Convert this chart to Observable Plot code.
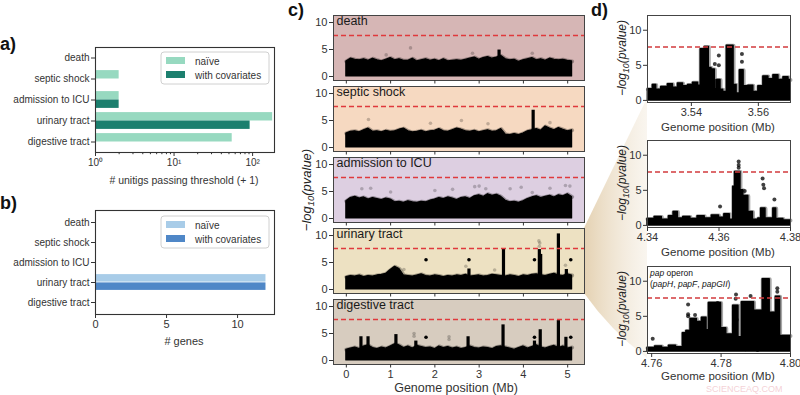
<!DOCTYPE html>
<html><head><meta charset="utf-8">
<script src="https://cdn.jsdelivr.net/npm/d3@7"></script>
<script src="https://cdn.jsdelivr.net/npm/@observablehq/plot@0.6"></script>
<style>
body{margin:0;background:#fff;}
#root{position:relative;width:800px;height:395px;overflow:hidden;font-family:"Liberation Sans",Arial,sans-serif;background:#fff;}
</style></head><body><div id="root"></div>
<script>
// ---------------- data ----------------
const categories = ["death", "septic shock", "admission to ICU", "urinary tract", "digestive tract"];
const unitigsNaive = [0, 1, 1, 179, 54];
const unitigsCov = [0, 0, 1, 92, 0];
const genesNaive = [0, 0, 0, 12, 0];
const genesCov = [0, 0, 0, 12, 0];
const logMajorTicks = [1, 10, 100];
const logMinorTicks = [2, 3, 4, 5, 6, 7, 8, 9, 20, 30, 40, 50, 60, 70, 80, 90];
const geneTicks = [0, 5, 10];
const genomeTicks = [0, 1, 2, 3, 4, 5];
const pTicks = [0, 5, 10];
const threshold = 7.6;

// panel c: upper envelope of the dense point cloud, every 0.1 Mb
const envPos = [0,0.1,0.2,0.3,0.4,0.5,0.6,0.7,0.8,0.9,1.0,1.1,1.2,1.3,1.4,1.5,1.6,1.7,1.8,1.9,2.0,2.1,2.2,2.3,2.4,2.5,2.6,2.7,2.8,2.9,3.0,3.1,3.2,3.3,3.4,3.5,3.6,3.7,3.8,3.9,4.0,4.1,4.2,4.3,4.4,4.5,4.6,4.7,4.8,4.9,5.0,5.1];
const envDeath = [2.8,3.3,3.1,3.0,3.2,2.9,3.3,3.0,2.8,3.1,3.4,3.0,3.2,2.9,2.9,3.3,2.8,3.0,3.2,2.9,3.1,2.8,3.2,2.8,2.9,3.0,2.9,3.1,3.3,3.5,3.1,3.4,3.6,3.3,3.5,3.8,3.2,3.0,3.1,2.7,3.0,3.2,3.4,3.0,3.2,2.9,3.3,3.1,3.0,3.1,2.9,2.8];
const envSeptic = [2.6,2.9,3.0,2.8,3.2,3.5,2.9,3.0,2.8,3.1,2.9,3.0,3.3,3.5,3.0,2.8,2.9,3.1,2.8,3.0,3.1,3.4,3.0,2.9,3.2,3.5,3.3,3.0,2.9,3.1,2.8,3.0,3.2,2.9,3.0,3.4,2.4,2.3,2.5,2.3,2.6,3.0,3.2,3.4,3.1,3.9,3.5,3.2,3.6,3.3,3.0,3.2];
const envAdmission = [3.2,3.8,4.0,3.7,3.9,3.5,3.8,3.6,3.4,3.7,3.5,3.0,3.1,2.9,3.2,3.0,2.9,3.1,3.0,3.3,3.5,3.8,3.6,3.9,3.7,3.4,3.8,3.9,3.6,4.1,4.3,4.0,4.5,4.2,4.4,4.0,3.3,3.0,3.1,2.9,3.2,3.6,3.9,4.1,3.8,4.0,4.2,3.9,4.3,4.1,4.5,4.0];
const envUrinary = [2.3,2.5,2.4,2.6,2.3,2.5,2.4,2.6,2.7,2.9,3.6,4.2,3.8,2.6,2.5,2.4,2.6,2.8,2.5,2.4,2.6,2.5,2.3,2.5,2.4,2.6,2.5,2.7,2.4,2.5,2.6,2.4,2.5,2.7,2.6,2.5,2.4,2.6,2.5,2.3,2.6,2.5,2.7,2.8,2.6,2.5,2.7,2.9,2.6,2.5,2.8,2.6];
const envDigestive = [2.0,2.2,2.4,2.1,2.6,2.8,2.3,2.1,2.4,2.2,2.6,3.0,2.8,2.3,2.6,2.2,2.7,2.5,2.3,2.4,2.1,2.6,2.3,2.5,2.2,2.4,2.1,2.3,2.6,2.3,2.2,2.4,2.3,2.1,2.5,2.6,2.4,2.2,2.0,2.3,2.6,2.2,2.5,2.8,2.4,2.2,2.5,2.7,2.3,2.6,2.2,2.4];
// narrow peaks [position Mb, -log10 p]
const peaksDeath = [[3.45, 4.9]];
const peaksSeptic = [[4.22, 6.9]];
const peaksAdmission = [];
const peaksUrinary = [[2.77, 3.8], [3.55, 7.6], [4.36, 7.4], [4.39, 6.5], [4.79, 10.3], [4.97, 3.7]];
const peaksDigestive = [[0.33, 4.4], [0.49, 4.4], [1.12, 4.8], [1.57, 3.6], [2.75, 4.4], [3.54, 6.6], [4.25, 3.6], [4.38, 5.7], [4.79, 7.4], [4.96, 4.3]];
// isolated faint points
const faintDeath = [[1.45, 5.3], [2.85, 4.3], [4.2, 4.3], [0.9, 4.0]];
const faintSeptic = [[0.5, 5.2], [2.6, 5.0], [1.9, 4.5], [3.2, 4.4], [4.6, 4.6]];
const faintAdmission = [[0.35, 5.5], [0.55, 5.6], [1.0, 4.9], [2.0, 5.2], [2.4, 5.4], [2.9, 5.9], [3.0, 6.0], [3.15, 5.5], [3.7, 5.5], [3.95, 5.8], [4.6, 5.6], [4.95, 6.1], [5.05, 6.0], [4.2, 4.8]];
const faintUrinary = [[4.35, 9.0], [4.37, 8.6], [4.36, 8.0], [1.3, 3.7], [4.95, 4.5], [2.7, 4.3], [3.35, 3.6]];
const faintDigestive = [[1.53, 5.0], [1.53, 4.5], [2.32, 4.4], [2.32, 3.9]];
// solid markers
const markUrinary = [[1.8, 5.5], [2.77, 5.5], [4.25, 5.5], [5.07, 5.5]];
const markDigestive = [[1.8, 4.3], [4.25, 4.3], [5.07, 4.3]];
const cColors = ["#d6b6b5", "#f6d9c1", "#ddcfe1", "#ede1c2", "#d7ccbf"];

// panel d: zoomed regions (step envelope [Mb, top]) and points
const d1Env = [[3.527,1.6],[3.5285,2.2],[3.5295,1.5],[3.531,1.9],[3.533,2.3],[3.5345,1.8],[3.536,2.4],[3.5375,2.0],[3.539,2.2],[3.5405,2.5],[3.542,2.1],[3.5428,7.3],[3.544,7.6],[3.5452,4.6],[3.546,4.4],[3.547,1.6],[3.5475,2.9],[3.5487,1.5],[3.5495,1.2],[3.5506,7.8],[3.5526,2.2],[3.5535,1.0],[3.5545,4.3],[3.5556,2.0],[3.557,2.1],[3.5585,1.2],[3.56,2.0],[3.5615,3.4],[3.563,3.0],[3.5645,3.6],[3.566,2.9],[3.5675,3.3],[3.569,2.9],[3.5696,2.9]];
const d1Pts = [[3.5482,6.4],[3.5482,5.0],[3.547,5.2],[3.5551,6.6],[3.5551,5.5],[3.5446,6.0],[3.5515,5.2],[3.5518,4.0]];
const d2Env = [[4.34,0.9],[4.342,1.2],[4.344,0.8],[4.346,1.3],[4.3473,1.9],[4.3485,1.0],[4.35,1.2],[4.352,0.9],[4.354,1.3],[4.356,1.0],[4.358,1.4],[4.36,1.1],[4.3615,1.6],[4.363,0.8],[4.364,5.5],[4.3645,7.6],[4.366,5.0],[4.3668,4.2],[4.3682,1.9],[4.3695,0.8],[4.371,1.0],[4.3718,2.4],[4.373,1.0],[4.3752,2.4],[4.376,0.9],[4.378,0.7],[4.38,0.7]];
const d2Pts = [[4.3655,9.1],[4.3655,8.6],[4.3655,8.2],[4.3722,6.7],[4.3724,5.8],[4.3726,5.3],[4.3755,3.7],[4.3603,2.7],[4.3672,4.9]];
const d3Env = [[4.7588,0.5],[4.761,0.7],[4.763,0.5],[4.765,0.8],[4.767,0.6],[4.769,2.6],[4.77,2.9],[4.7712,4.6],[4.773,4.2],[4.7745,4.8],[4.7758,3.0],[4.7765,6.9],[4.78,3.3],[4.7815,2.4],[4.7835,6.5],[4.785,2.0],[4.786,7.0],[4.7895,5.8],[4.792,10.3],[4.794,5.5],[4.7958,7.8],[4.797,2.2],[4.8,2.2]];
const d3Pts = [[4.7603,1.8],[4.7705,6.7],[4.7705,5.3],[4.7705,5.0],[4.7843,8.1],[4.7842,7.5],[4.7885,7.9],[4.7962,9.0],[4.7962,8.5],[4.7845,4.5],[4.787,0.3],[4.789,0.5],[4.7905,0.2],[4.779,6.9],[4.7725,5.2]];
const d1Ticks = [3.54, 3.56];
const d2Ticks = [4.34, 4.36, 4.38];
const d3Ticks = [4.76, 4.78, 4.80];

// ---------------- drawing ----------------
const FONT = '"Liberation Sans", Arial, sans-serif';
const root = document.getElementById("root");
const INK = "#333";
function place(el, left, top) {
  el.style.position = "absolute"; el.style.left = left + "px"; el.style.top = top + "px";
  root.appendChild(el);
}
const baseStyle = {fontFamily: FONT, fontSize: "10px", color: INK, background: "transparent", overflow: "visible"};

// wedge decoration (behind)
const deco = document.createElementNS("http://www.w3.org/2000/svg", "svg");
deco.setAttribute("width", 800); deco.setAttribute("height", 395);
deco.innerHTML = `<defs><linearGradient id="wg" x1="0" x2="1" y1="0" y2="0">
<stop offset="0" stop-color="#e3cfae" stop-opacity="0.95"/><stop offset="1" stop-color="#efe4d2" stop-opacity="0.35"/></linearGradient></defs>
<path d="M584,228 L647,98 L647,358 Q610,330 584,293 Z" fill="url(#wg)"/>`;
place(deco, 0, 0);

// ----- panel a -----
const supDigits = {0: "\u2070", 1: "\u00b9", 2: "\u00b2"};
const rowsA = categories.map((c, i) => ({cat: c, naive: unitigsNaive[i], cov: unitigsCov[i]}));
const plotA = Plot.plot({
  width: 290, height: 192, marginLeft: 95, marginRight: 16, marginTop: 47, marginBottom: 40,
  style: baseStyle,
  x: {type: "log", domain: [1, 190], label: null},
  y: {type: "band", domain: categories, padding: 0, label: null},
  marks: [
    Plot.barX(rowsA, {y: "cat", x1: () => 1, x2: d => d.naive + 1, fill: "#97d9c0", insetTop: 2.1, insetBottom: 10.5}),
    Plot.barX(rowsA, {y: "cat", x1: () => 1, x2: d => d.cov + 1, fill: "#1c7f6e", insetTop: 10.5, insetBottom: 2.1}),
    Plot.frame({stroke: INK, strokeWidth: 1.1}),
    Plot.axisY({tickSize: 4, tickPadding: 2, label: null, fontSize: 10}),
    Plot.axisX({ticks: logMajorTicks, tickSize: 4, tickPadding: 2, label: null, fontSize: 10,
      tickFormat: d => "10" + supDigits[Math.round(Math.log10(d))]}),
    Plot.axisX({ticks: logMinorTicks, tickSize: 2.2, label: null, tickFormat: () => ""})
  ]
});
place(plotA, 0, 0);

// ----- panel b -----
const rowsB = categories.map((c, i) => ({cat: c, naive: genesNaive[i], cov: genesCov[i]}));
const plotB = Plot.plot({
  width: 290, height: 159, marginLeft: 95, marginRight: 16, marginTop: 15, marginBottom: 40,
  style: baseStyle,
  x: {domain: [0, 12.6], label: null},
  y: {type: "band", domain: categories, padding: 0, label: null},
  marks: [
    Plot.barX(rowsB, {y: "cat", x: "naive", fill: "#a8cce8", insetTop: 2.1, insetBottom: 10.4}),
    Plot.barX(rowsB, {y: "cat", x: "cov", fill: "#4f87c7", insetTop: 10.4, insetBottom: 2.1}),
    Plot.frame({stroke: INK, strokeWidth: 1.1}),
    Plot.axisY({tickSize: 4, tickPadding: 2, label: null, fontSize: 10}),
    Plot.axisX({ticks: geneTicks, tickSize: 4, tickPadding: 2, label: null, fontSize: 11})
  ]
});
place(plotB, 0, 195);

// ----- panel c -----
const cEnvs = [envDeath, envSeptic, envAdmission, envUrinary, envDigestive];
const cPeaks = [peaksDeath, peaksSeptic, peaksAdmission, peaksUrinary, peaksDigestive];
const cFaint = [faintDeath, faintSeptic, faintAdmission, faintUrinary, faintDigestive];
const cMarks = [[], [], [], markUrinary, markDigestive];
const cTops = [15, 86, 157, 228, 299];
categories.forEach((name, i) => {
  const env = envPos.map((x, j) => ({x, y: cEnvs[i][j]}));
  const last = i === 4;
  const p = Plot.plot({
    width: 300, height: 2 + 65 + (last ? 30 : 8),
    marginLeft: 43, marginRight: 6, marginTop: 2, marginBottom: last ? 30 : 8,
    style: baseStyle,
    x: {domain: [-0.29, 5.38], label: null},
    y: {domain: [-0.74, 11.3], label: null},
    marks: [
      Plot.frame({fill: cColors[i]}),
      Plot.dot(cFaint[i], {x: d => d[0], y: d => d[1], r: 1.8, fill: "#000", fillOpacity: 0.22}),
      Plot.areaY(env, {x: "x", y: "y", fill: "#000", stroke: "#000", strokeWidth: 1.2}),
      Plot.lineY(env, {x: "x", y: "y", stroke: "#000", strokeOpacity: 0.3, strokeWidth: 4}),
      Plot.ruleX(cPeaks[i], {x: d => d[0], y1: 0, y2: d => d[1], stroke: "#000", strokeWidth: 3.2}),
      Plot.dot(cMarks[i], {x: d => d[0], y: d => d[1], r: 1.8, fill: "#000"}),
      Plot.ruleY([threshold], {stroke: "#e0393c", strokeWidth: 1.6, strokeDasharray: "5,3"}),
      Plot.text([name], {text: d => d, frameAnchor: "top-left", textAnchor: "start", lineAnchor: "top", dx: 3, dy: 1, fontSize: 12.5, fill: "#1a1a1a"}),
      Plot.frame({stroke: "#444", strokeWidth: 1}),
      Plot.axisY({ticks: pTicks, tickSize: 4, tickPadding: 2, label: null, fontSize: 11}),
      Plot.axisX({ticks: genomeTicks, tickSize: 3.5, tickPadding: 2, label: null, fontSize: 11,
        tickFormat: last ? (d => String(d)) : (() => "")})
    ]
  });
  place(p, 290, cTops[i] - 2);
});

// ----- panel d -----
const dEnvs = [d1Env, d2Env, d3Env];
const dPts = [d1Pts, d2Pts, d3Pts];
const dTicks = [d1Ticks, d2Ticks, d3Ticks];
const dDomains = [[3.5269, 3.5696], [4.34, 4.38], [4.7588, 4.80]];
const dTops = [15, 140, 266];
dEnvs.forEach((envArr, i) => {
  const env = envArr.map(d => ({x: d[0], y: d[1]}));
  const p = Plot.plot({
    width: 210, height: 2 + 87 + 32, marginLeft: 57, marginRight: 10, marginTop: 2, marginBottom: 32,
    style: baseStyle,
    x: {domain: dDomains[i], label: null},
    y: {domain: [-0.3, 12.1], label: null},
    marks: [
      Plot.frame({fill: "#fff"}),
      Plot.areaY(env, {x: "x", y: "y", curve: "step-after", fill: "#000", stroke: "#000", strokeWidth: 1.5}),
      Plot.lineY(env, {x: "x", y: "y", curve: "step-after", stroke: "#000", strokeOpacity: 0.35, strokeWidth: 4}),
      Plot.dot(dPts[i], {x: d => d[0], y: d => d[1], r: 2, fill: "#000", fillOpacity: 0.75}),
      Plot.ruleY([threshold], {stroke: "#d23b3e", strokeWidth: 1.6, strokeDasharray: "5,3"}),
      Plot.frame({stroke: "#444", strokeWidth: 1}),
      Plot.axisY({ticks: pTicks, tickSize: 4, tickPadding: 2, label: null, fontSize: 11}),
      Plot.axisX({ticks: dTicks[i], tickSize: 4, tickPadding: 2, label: null, fontSize: 11, tickFormat: d3.format(".2f")})
    ]
  });
  place(p, 590, dTops[i] - 2);
});

// ----- overlay texts -----
const ov = document.createElementNS("http://www.w3.org/2000/svg", "svg");
ov.setAttribute("width", 800); ov.setAttribute("height", 395);
ov.style.pointerEvents = "none";
function ylab(x, y, size) {
  return `<text transform="translate(${x},${y}) rotate(-90)" text-anchor="middle" font-size="${size}" font-style="italic" fill="#222">\u2212log<tspan dy="3" font-size="${size * 0.72}">10</tspan><tspan dy="-3">(pvalue)</tspan></text>`;
}
function legend(y0, c1, c2) {
  return `<rect x="161" y="${y0}" width="108" height="32" rx="3" fill="#fff" fill-opacity="0.85" stroke="#d0d0d0"/>
  <rect x="166" y="${y0 + 5}" width="19" height="7" fill="${c1}"/>
  <text x="195" y="${y0 + 13}" font-size="10" fill="${INK}">naïve</text>
  <rect x="166" y="${y0 + 19}" width="19" height="7" fill="${c2}"/>
  <text x="195" y="${y0 + 27}" font-size="10" fill="${INK}">with covariates</text>`;
}
ov.innerHTML = `
<g font-family='${FONT}'>
<text x="0" y="50" font-size="18" font-weight="bold" fill="#111">a)</text>
<text x="0" y="209" font-size="18" font-weight="bold" fill="#111">b)</text>
<text x="288" y="16" font-size="18" font-weight="bold" fill="#111">c)</text>
<text x="591" y="16" font-size="18" font-weight="bold" fill="#111">d)</text>
${legend(52, "#97d9c0", "#1c7f6e")}
${legend(216, "#a8cce8", "#4f87c7")}
<text x="184" y="184" text-anchor="middle" font-size="10.5" fill="${INK}"># unitigs passing threshold (+ 1)</text>
<text x="184" y="345" text-anchor="middle" font-size="11" fill="${INK}"># genes</text>
<text x="456" y="392" text-anchor="middle" font-size="12.5" fill="${INK}">Genome position (Mb)</text>
<text x="718" y="131" text-anchor="middle" font-size="11.5" fill="${INK}">Genome position (Mb)</text>
<text x="718" y="256" text-anchor="middle" font-size="11.5" fill="${INK}">Genome position (Mb)</text>
<text x="718" y="380" text-anchor="middle" font-size="11.5" fill="${INK}">Genome position (Mb)</text>
${ylab(311, 190, 13)}
${ylab(626, 58, 12)}
${ylab(626, 183, 12)}
${ylab(626, 309, 12)}
<text x="650" y="276" font-size="8.5" fill="#111"><tspan font-style="italic">pap</tspan> operon</text>
<text x="650" y="287" font-size="8.5" fill="#111">(<tspan font-style="italic">papH</tspan>, <tspan font-style="italic">papF</tspan>, <tspan font-style="italic">papGII</tspan>)</text>
<text x="706" y="391.5" font-size="9" fill="#f2c6cc" fill-opacity="0.8">SCIENCEAQ.COM</text>
</g>`;
place(ov, 0, 0);
</script></body></html>
